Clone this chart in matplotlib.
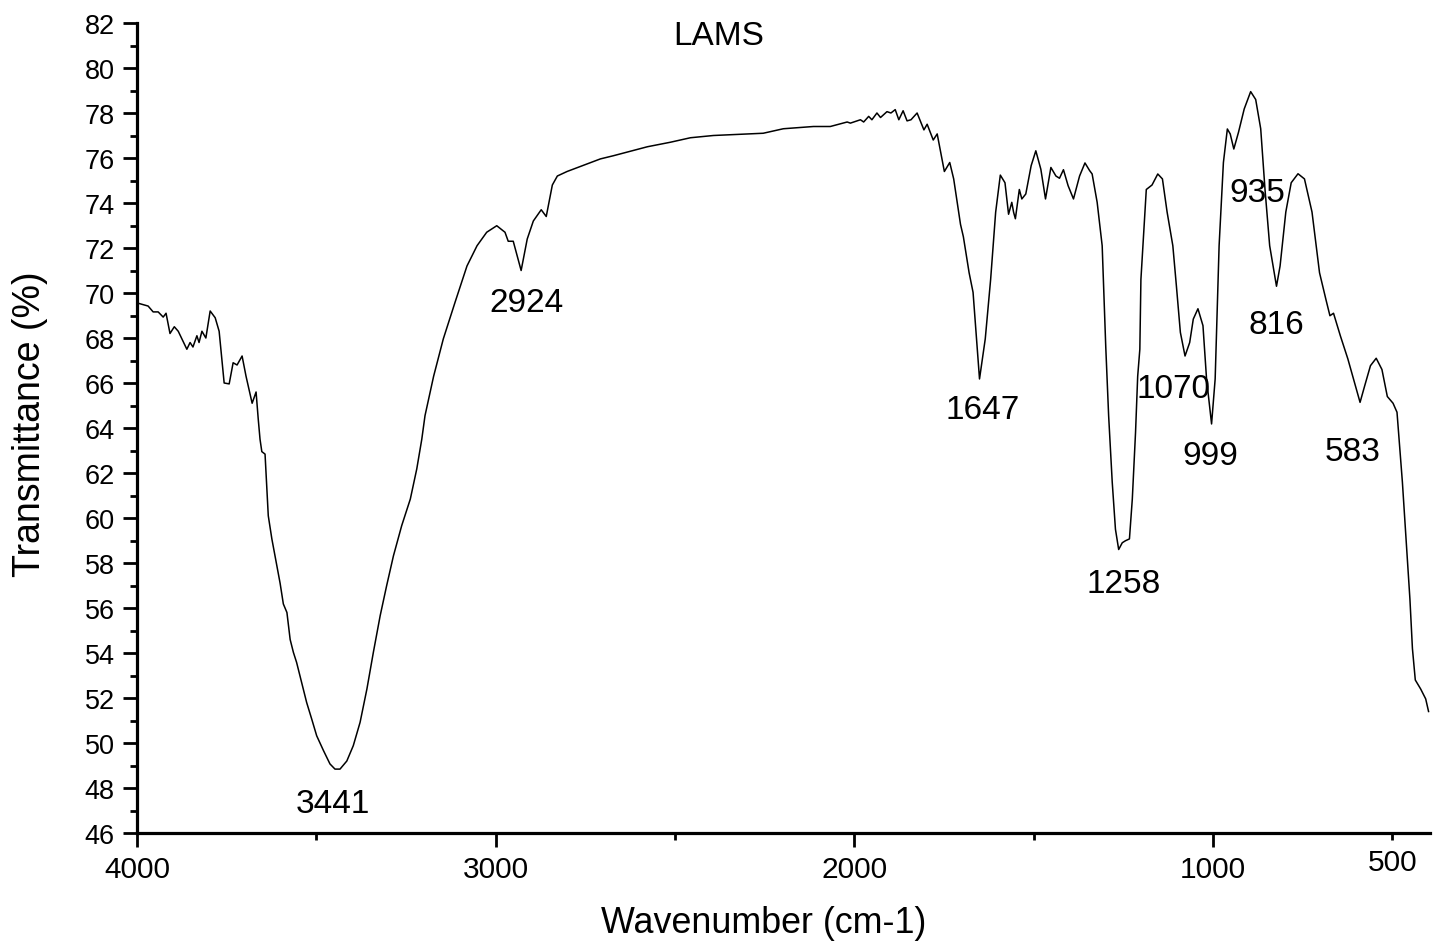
import numpy as np
import matplotlib
matplotlib.use("Agg")
import matplotlib.pyplot as plt
from matplotlib.ticker import FixedLocator, FuncFormatter, MultipleLocator

plt.rcParams["font.family"] = ["Liberation Sans", "DejaVu Sans"]

# FTIR spectrum of LAMS
wavenumber = [
    4000, 3969, 3955, 3941, 3927, 3919, 3908, 3896, 3885, 3861, 3852, 3844,
    3833, 3827, 3819, 3808, 3796, 3782, 3771, 3757, 3743, 3732, 3721, 3707,
    3696, 3679, 3668, 3662, 3657, 3652, 3643, 3638, 3634, 3624, 3615, 3601,
    3592, 3582, 3573, 3564, 3555, 3541, 3527, 3513, 3499, 3480, 3462, 3448,
    3434, 3415, 3397, 3378, 3359, 3341, 3322, 3304, 3285, 3262, 3238, 3220,
    3206, 3197, 3173, 3146, 3113, 3080, 3052, 3025, 2997, 2974, 2965, 2951,
    2929, 2912, 2895, 2873, 2859, 2842, 2828, 2801, 2708, 2672, 2577, 2513,
    2457, 2393, 2254, 2198, 2114, 2067, 2020, 2011, 1983, 1974, 1960, 1951,
    1937, 1927, 1909, 1898, 1886, 1876, 1864, 1853, 1842, 1825, 1806, 1797,
    1780, 1769, 1749, 1734, 1723, 1704, 1696, 1680, 1669, 1651, 1635, 1620,
    1606, 1593, 1580, 1570, 1561, 1556, 1551, 1540, 1533, 1522, 1507, 1494,
    1480, 1467, 1452, 1438, 1428, 1417, 1404, 1389, 1372, 1357, 1344, 1337,
    1323, 1309, 1299, 1291, 1281, 1272, 1263, 1253, 1244, 1233, 1225, 1216,
    1210, 1204, 1201, 1186, 1170, 1154, 1141, 1128, 1112, 1102, 1091, 1078,
    1065, 1055, 1042, 1028, 1018, 1004, 994, 983, 971, 960, 952, 942,
    929, 913, 895, 881, 867, 855, 842, 823, 813, 797, 782, 763,
    745, 724, 703, 685, 674, 664, 645, 624, 603, 590, 577, 561,
    545, 529, 514, 498, 487, 472, 460, 451, 444, 436, 421, 407, 399,
]
transmittance = [
    69.56, 69.42, 69.16, 69.16, 68.93, 69.10, 68.20, 68.50, 68.30, 67.50, 67.80, 67.60,
    68.10, 67.80, 68.30, 68.00, 69.20, 68.90, 68.30, 66.00, 65.96, 66.90, 66.80, 67.20,
    66.30, 65.10, 65.60, 64.40, 63.50, 62.95, 62.84, 61.30, 60.10, 59.07, 58.30, 57.10,
    56.18, 55.80, 54.60, 54.03, 53.58, 52.69, 51.80, 51.07, 50.32, 49.66, 49.07, 48.84,
    48.84, 49.20, 49.88, 50.92, 52.40, 54.03, 55.66, 56.99, 58.32, 59.66, 60.84, 62.18,
    63.50, 64.55, 66.30, 67.96, 69.60, 71.20, 72.10, 72.70, 72.99, 72.70, 72.30, 72.30,
    71.00, 72.40, 73.20, 73.70, 73.40, 74.80, 75.20, 75.40, 75.96, 76.10, 76.50, 76.70,
    76.90, 77.00, 77.10, 77.30, 77.40, 77.40, 77.60, 77.55, 77.70, 77.60, 77.85, 77.70,
    78.00, 77.80, 78.06, 78.00, 78.15, 77.70, 78.10, 77.65, 77.70, 78.00, 77.25, 77.50,
    76.80, 77.07, 75.40, 75.80, 75.07, 73.05, 72.50, 70.90, 70.03, 66.18, 67.96, 70.60,
    73.59, 75.24, 74.90, 73.50, 74.03, 73.59, 73.30, 74.60, 74.18, 74.40, 75.66, 76.32,
    75.50, 74.18, 75.58, 75.20, 75.10, 75.48, 74.77, 74.18, 75.20, 75.78, 75.44, 75.29,
    74.03, 72.10, 67.60, 64.55, 61.60, 59.50, 58.60, 58.90, 58.99, 59.07, 60.84, 63.80,
    66.30, 67.50, 70.60, 74.60, 74.80, 75.29, 75.07, 73.60, 72.10, 70.30, 68.25, 67.20,
    67.80, 68.84, 69.30, 68.55, 66.18, 64.18, 66.18, 72.10, 75.80, 77.29, 77.07, 76.40,
    77.14, 78.18, 78.95, 78.60, 77.30, 74.60, 72.10, 70.30, 71.20, 73.60, 74.90, 75.30,
    75.07, 73.60, 70.90, 69.70, 68.99, 69.10, 68.10, 67.07, 65.88, 65.14, 65.88, 66.77,
    67.10, 66.60, 65.40, 65.10, 64.70, 61.60, 58.60, 56.40, 54.20, 52.80, 52.40, 51.96, 51.40,
]

# peak labels: text, x, baseline y
peak_labels = ["3441", "2924", "1647", "1258", "1070", "999", "935", "816", "583"]
peak_x = [3453, 2913, 1643, 1248, 1109, 1007, 876, 823, 611]
peak_y = [46.92, 69.21, 64.44, 56.72, 65.38, 62.40, 74.09, 68.22, 62.59]

fig = plt.figure(figsize=(14.41, 9.53), dpi=100)
ax = fig.add_axes([137 / 1441, 1 - 834 / 953, (1430 - 137) / 1441, (834 - 24) / 953])

ax.plot(wavenumber, transmittance, color="black", lw=1.1)

ax.set_xlim(4000, 395)
ax.set_ylim(46, 82)

for s in ["top", "right"]:
    ax.spines[s].set_visible(False)
for s in ["left", "bottom"]:
    ax.spines[s].set_linewidth(2.3)

ax.xaxis.set_major_locator(FixedLocator([4000, 3000, 2000, 1000]))
ax.xaxis.set_minor_locator(FixedLocator([3500, 2500, 1500, 500]))
ax.xaxis.set_minor_formatter(FuncFormatter(lambda v, p: "500" if v == 500 else ""))
ax.yaxis.set_major_locator(MultipleLocator(2))
ax.yaxis.set_minor_locator(MultipleLocator(1))

ax.tick_params(axis="both", which="major", direction="out", length=10, width=2.0)
ax.tick_params(axis="both", which="minor", direction="out", length=5, width=2.0)
ax.tick_params(axis="x", which="both", labelsize=21.5, pad=6)
ax.tick_params(axis="y", which="both", labelsize=19.5, pad=6)

for lab, x, y in zip(peak_labels, peak_x, peak_y):
    ax.text(x, y, lab, fontsize=24, ha="center", va="baseline")

ax.text(2379, 81.07, "LAMS", fontsize=24, ha="center", va="baseline")

fig.text(764 / 1441, 1 - 933 / 953, "Wavenumber (cm-1)", fontsize=25.8,
         ha="center", va="baseline")
fig.text(30 / 1441, 1 - 424 / 953, "Transmittance (%)", fontsize=27,
         ha="center", va="center", rotation=90)

fig.savefig("out.png", dpi=100)
